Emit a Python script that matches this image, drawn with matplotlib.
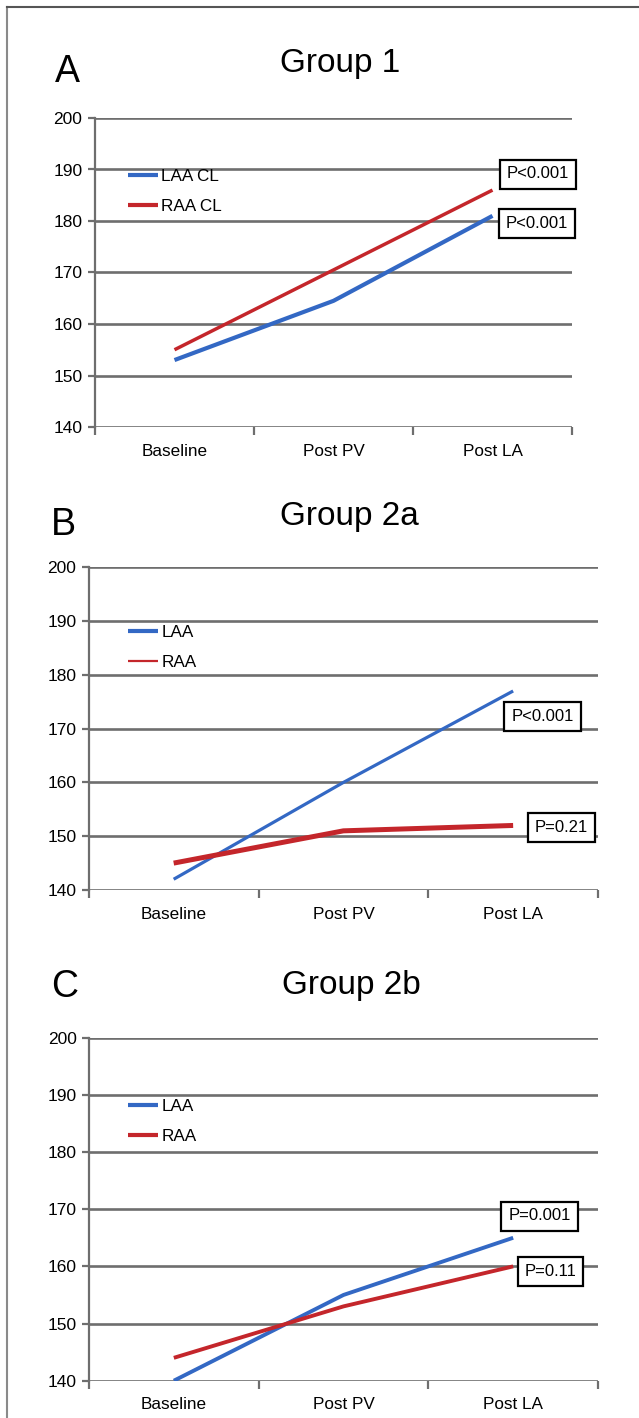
import matplotlib
matplotlib.use("Agg")
from matplotlib import pyplot as plt
from matplotlib.lines import Line2D

plt.rcParams['font.family'] = ['Liberation Sans', 'DejaVu Sans']

W, H = 639, 1418

categories = ['Baseline', 'Post PV', 'Post LA']

# group 1
g1_laa = [153, 164.5, 181]
g1_raa = [155, 170.5, 186]
g1_p = ['P<0.001', 'P<0.001']

# group 2a
g2a_laa = [142, 160, 177]
g2a_raa = [145, 151, 152]
g2a_p = ['P<0.001', 'P=0.21']

# group 2b
g2b_laa = [140, 155, 165]
g2b_raa = [144, 153, 160]
g2b_p = ['P=0.001', 'P=0.11']

BLUE = '#3368c4'
RED = '#c4262b'
GRID = '#6e6e6e'


def fx(px):
    return px / W


def fy(py):
    return 1 - py / H


def draw_panel(fig, box, letter, title, letter_pos, title_pos,
               laa, raa, names, widths, leg_widths, pvals, pboxes):
    left, right, top, bottom = box
    ax = fig.add_axes([fx(left), fy(bottom), fx(right - left), (bottom - top) / H])
    x = [i + 0.5 for i in range(len(categories))]
    ax.plot(x, laa, color=BLUE, lw=widths[0], label=names[0], solid_capstyle='butt', zorder=3)
    ax.plot(x, raa, color=RED, lw=widths[1], label=names[1], solid_capstyle='butt', zorder=3)

    ax.set_xlim(0, 3)
    ax.set_ylim(140, 200)
    ax.set_yticks(range(140, 201, 10))
    ax.set_xticks([0, 1, 2, 3])
    ax.set_xticklabels([])
    ax.set_xticks(x, minor=True)
    ax.set_xticklabels(categories, minor=True)
    ax.tick_params(axis='x', which='minor', length=0, pad=12, labelsize=12.3)
    ax.tick_params(axis='x', which='major', length=6, width=1.6, color=GRID, direction='out')
    ax.tick_params(axis='y', length=5, width=1.6, color=GRID, pad=4, labelsize=12.5)
    for s in ['top', 'right', 'bottom']:
        ax.spines[s].set_visible(False)
    ax.spines['left'].set_color(GRID)
    ax.spines['left'].set_linewidth(1.6)
    ax.yaxis.grid(True, color=GRID, lw=1.9)
    ax.set_axisbelow(True)
    ax.patch.set_alpha(0)

    leg_x = (128 - left) / (right - left)
    leg_y = 1 - (letter_pos[2] - top) / (bottom - top)
    leg = ax.legend(loc='upper left', bbox_to_anchor=(leg_x, leg_y), frameon=False,
                    fontsize=12.3, handlelength=1.75, handletextpad=0.2,
                    labelspacing=0.85, borderpad=0, borderaxespad=0)
    for ln, lw in zip(leg.get_lines(), leg_widths):
        ln.set_linewidth(lw)

    fig.text(fx(letter_pos[0]), fy(letter_pos[1]), letter, fontsize=27,
             ha='left', va='baseline')
    fig.text(fx(title_pos[0]), fy(title_pos[1]), title, fontsize=24,
             ha='center', va='baseline')

    for label, (cx, cy) in zip(pvals, pboxes):
        fig.text(fx(cx), fy(cy), label, fontsize=12, ha='center', va='center',
                 bbox=dict(boxstyle='square,pad=0.42', fc='white', ec='black', lw=1.6),
                 zorder=5)
    return ax


fig = plt.figure(figsize=(W / 100, H / 100), dpi=100)

# outer frame, cropped on the right and bottom
fig.lines.append(Line2D([fx(7), fx(7)], [0, fy(7)], transform=fig.transFigure,
                        color='#8a8a8a', lw=1.5))
fig.lines.append(Line2D([fx(7), 1], [fy(7), fy(7)], transform=fig.transFigure,
                        color='#555555', lw=1.5))

draw_panel(fig, (95, 572, 118, 427), 'A', 'Group 1', (55, 82, 169), (340, 72),
           g1_laa, g1_raa, ['LAA CL', 'RAA CL'], [3.0, 2.5], [3.0, 3.0],
           g1_p, [(538, 174), (537, 223.5)])

draw_panel(fig, (88.8, 598, 567.3, 890), 'B', 'Group 2a', (51, 535, 625), (349, 525),
           g2a_laa, g2a_raa, ['LAA', 'RAA'], [2.3, 3.6], [3.0, 1.6],
           g2a_p, [(542.5, 716.5), (561.5, 827.5)])

draw_panel(fig, (89, 598, 1037.7, 1380.7), 'C', 'Group 2b', (51, 997, 1099), (351, 994),
           g2b_laa, g2b_raa, ['LAA', 'RAA'], [2.8, 2.8], [3.0, 3.0],
           g2b_p, [(539.5, 1216), (550.5, 1271)])

fig.savefig('out.png', dpi=100)
